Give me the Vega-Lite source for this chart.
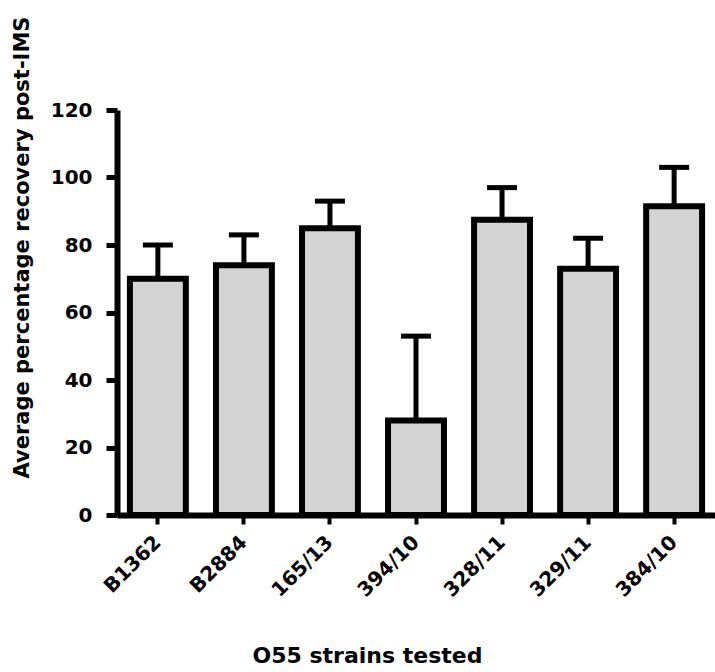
{
  "$schema": "https://vega.github.io/schema/vega-lite/v6.json",
  "width": 598,
  "height": 405,
  "autosize": "none",
  "padding": {"left": 117, "top": 110, "right": 0, "bottom": 157},
  "background": "white",
  "data": {
    "values": [
      {"strain": "B1362", "mean": 70, "upper": 80},
      {"strain": "B2884", "mean": 74, "upper": 83},
      {"strain": "165/13", "mean": 85, "upper": 93},
      {"strain": "394/10", "mean": 28, "upper": 53},
      {"strain": "328/11", "mean": 87.5, "upper": 97},
      {"strain": "329/11", "mean": 73, "upper": 82},
      {"strain": "384/10", "mean": 91.5, "upper": 103}
    ]
  },
  "config": {
    "view": {"stroke": null},
    "font": "DejaVu Sans",
    "axis": {
      "labelFont": "DejaVu Sans",
      "labelFontWeight": "bold",
      "labelFontSize": 20,
      "labelColor": "black",
      "titleFont": "DejaVu Sans",
      "titleFontWeight": "bold",
      "titleFontSize": 21,
      "titleColor": "black",
      "domainColor": "black",
      "tickColor": "black",
      "grid": false
    }
  },
  "encoding": {
    "x": {
      "field": "strain",
      "type": "nominal",
      "sort": null,
      "scale": {"paddingInner": 0.35, "paddingOuter": 0.15},
      "axis": {
        "title": "O55 strains tested",
        "labelAngle": -45,
        "labelAlign": "right",
        "labelBaseline": "middle",
        "labelPadding": 15,
        "domainWidth": 6,
        "tickWidth": 4,
        "tickSize": 9,
        "titlePadding": 45,
        "titleX": 250,
        "titleFontSize": 22
      }
    }
  },
  "layer": [
    {
      "mark": {"type": "rule", "strokeWidth": 5, "color": "black"},
      "encoding": {
        "y": {"field": "mean", "type": "quantitative"},
        "y2": {"field": "upper"}
      }
    },
    {
      "mark": {"type": "tick", "orient": "horizontal", "size": 30, "thickness": 5, "color": "black", "opacity": 1},
      "encoding": {
        "y": {"field": "upper", "type": "quantitative"}
      }
    },
    {
      "mark": {"type": "bar", "fill": "#d4d4d4", "stroke": "black", "strokeWidth": 6},
      "encoding": {
        "y": {
          "field": "mean",
          "type": "quantitative",
          "scale": {"domain": [0, 120], "nice": false},
          "axis": {
            "title": "Average percentage recovery post-IMS",
            "values": [0, 20, 40, 60, 80, 100, 120],
            "domainWidth": 6,
            "tickWidth": 5,
            "tickSize": 11,
            "labelPadding": 14,
            "titlePadding": 18,
            "titleY": 137
          }
        }
      }
    }
  ]
}
